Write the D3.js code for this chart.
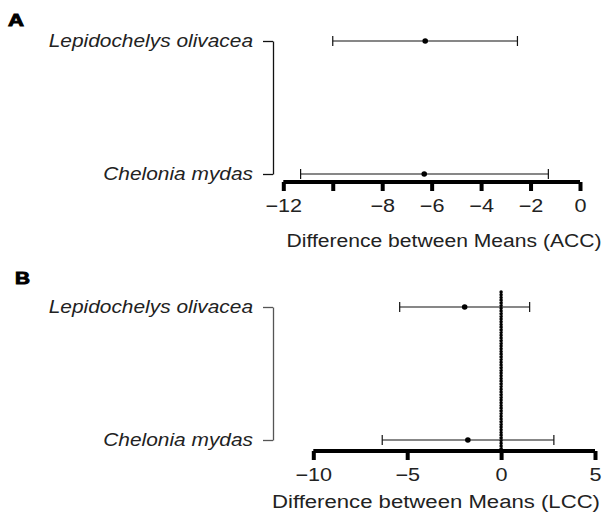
<!DOCTYPE html>
<html><head><meta charset="utf-8">
<script src="https://cdn.jsdelivr.net/npm/d3@7"></script>
<style>body{margin:0;background:#fff;} text{font-family:"Liberation Sans",Arial,sans-serif;}</style>
</head><body><svg id="c" width="605" height="516"></svg>
<script>
const species = ["Lepidochelys olivacea", "Chelonia mydas"];
const accMean = [-6.26, -6.30];
const accLower = [-10.0, -11.3];
const accUpper = [-2.53, -1.28];
const lccMean = [-1.94, -1.77];
const lccLower = [-5.40, -6.33];
const lccUpper = [1.52, 2.81];
const accTicks = [-12, -10, -8, -6, -4, -2, 0];
const accTickLabels = ["\u221212", "", "\u22128", "\u22126", "\u22124", "\u22122", "0"];
const lccTicks = [-10, -5, 0, 5];
const lccTickLabels = ["\u221210", "\u22125", "0", "5"];

const svg = d3.select("#c");
function stretch(f) {
  return sel => sel.each(function() {
    const w = this.getComputedTextLength();
    if (w > 0) d3.select(this).attr("textLength", w * f).attr("lengthAdjust", "spacingAndGlyphs");
  });
}

function panel(o) {
  const g = svg.append("g");
  const x = d3.scaleLinear().domain(o.xDomain).range(o.xRange);
  const y = d3.scalePoint().domain(species).range(o.yRange).padding(0);
  // panel letter
  g.append("text").attr("x", o.letterX).attr("y", o.letterY).text(o.letter)
    .attr("font-family", "'DejaVu Sans', sans-serif").attr("font-weight", "900").attr("font-size", o.letterSize)
    .attr("stroke", "#000").attr("stroke-width", 0.9)
    .attr("textLength", o.letterW).attr("lengthAdjust", "spacingAndGlyphs");
  // left bracket axis
  const ya = g.append("g").attr("transform", `translate(${o.bracketX},0)`)
    .call(d3.axisLeft(y).tickSize(10).tickSizeOuter(0).tickPadding(10));
  ya.selectAll("path,line").attr("stroke", o.bracketColor).attr("stroke-width", 1.3);
  ya.selectAll("text").attr("font-size", 18).attr("font-style", "italic").attr("fill", "#222")
    .attr("font-family", "'Liberation Sans', Arial, sans-serif").call(stretch(1.16));
  // bottom axis
  const xa = g.append("g").attr("transform", `translate(0,${o.axisY})`)
    .call(d3.axisBottom(x).tickValues(o.ticks).tickSize(9).tickSizeOuter(0).tickPadding(8)
      .tickFormat((d, i) => o.tickLabels[i]));
  xa.select(".domain").attr("stroke", "#000").attr("stroke-width", 4).attr("d", `M${x(o.ticks[0])},0H${x(o.ticks[o.ticks.length-1])}`);
  xa.selectAll(".tick line").attr("stroke", "#000").attr("stroke-width", 4);
  xa.selectAll("text").attr("font-size", 18).attr("fill", "#222")
    .attr("font-family", "'Liberation Sans', Arial, sans-serif").call(stretch(1.2));
  // axis title
  g.append("text").attr("x", o.titleX).attr("y", o.titleY).attr("text-anchor", "middle")
    .attr("font-size", 18).attr("fill", "#222").text(o.title)
    .attr("textLength", o.titleW).attr("lengthAdjust", "spacingAndGlyphs");
  // zero line
  if (o.zeroLine) {
    g.append("line").attr("x1", x(0)).attr("x2", x(0)).attr("y1", o.zeroTop).attr("y2", o.axisY)
      .attr("stroke", "#000").attr("stroke-width", 3.5).attr("stroke-linecap", "round")
      .attr("stroke-dasharray", "0.1,2.6");
  }
  // error bars
  species.forEach((s, i) => {
    const yy = y(s);
    g.append("line").attr("x1", x(o.lower[i])).attr("x2", x(o.upper[i])).attr("y1", yy).attr("y2", yy)
      .attr("stroke", "#111").attr("stroke-width", 1.2);
    [o.lower[i], o.upper[i]].forEach(v => {
      g.append("line").attr("x1", x(v)).attr("x2", x(v)).attr("y1", yy - 5).attr("y2", yy + 5)
        .attr("stroke", "#111").attr("stroke-width", 1.2);
    });
    g.append("circle").attr("cx", x(o.mean[i])).attr("cy", yy).attr("r", 2.8).attr("fill", "#000");
  });
}

panel({letter: "A", letterX: 8, letterY: 26, letterSize: 17, letterW: 16,
  xDomain: [-12, 0], xRange: [283.3, 580], yRange: [41, 174],
  bracketX: 273, bracketColor: "#111", axisY: 182, ticks: accTicks, tickLabels: accTickLabels,
  title: "Difference between Means (ACC)", titleX: 444, titleY: 247, titleW: 315,
  mean: accMean, lower: accLower, upper: accUpper, zeroLine: false});
panel({letter: "B", letterX: 15, letterY: 283.5, letterSize: 16, letterW: 15,
  xDomain: [-10, 5], xRange: [313.3, 595], yRange: [307, 440],
  bracketX: 273, bracketColor: "#555", axisY: 451, ticks: lccTicks, tickLabels: lccTickLabels,
  title: "Difference between Means (LCC)", titleX: 436, titleY: 508, titleW: 328,
  mean: lccMean, lower: lccLower, upper: lccUpper, zeroLine: true, zeroTop: 292});
</script></body></html>
